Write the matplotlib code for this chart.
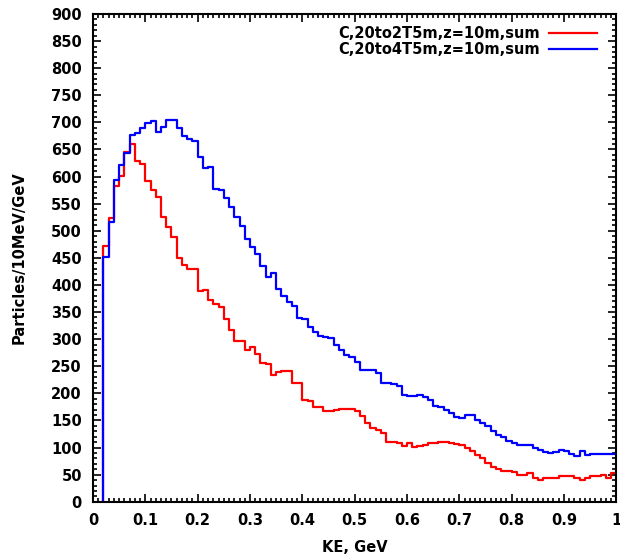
import numpy as np
import matplotlib
matplotlib.use("Agg")
from matplotlib import pyplot as plt
from matplotlib.ticker import MultipleLocator, FormatStrFormatter

# low edge of each 10 MeV bin, GeV
ke_low = np.round(np.arange(0.02, 1.0, 0.01), 2)

red_2T5m = [471, 523, 583, 601, 646, 660, 629, 623, 592, 575,
            563, 525, 507, 489, 449, 437, 429, 430, 388, 390,
            373, 365, 359, 337, 317, 297, 297, 280, 286, 273,
            256, 255, 234, 240, 241, 241, 219, 219, 188, 185,
            175, 175, 168, 168, 170, 171, 172, 172, 167, 159,
            145, 136, 133, 127, 111, 111, 108, 103, 108, 101,
            103, 105, 108, 108, 111, 110, 108, 107, 105, 99,
            93, 87, 81, 71, 65, 60, 57, 56, 55, 50,
            50, 53, 44, 41, 44, 44, 44, 47, 47, 47,
            44, 41, 44, 47, 47, 50, 44, 53]

blue_4T5m = [452, 517, 594, 622, 643, 677, 680, 690, 698, 702,
             683, 691, 704, 704, 690, 675, 669, 665, 637, 615,
             617, 577, 575, 560, 544, 525, 508, 485, 470, 457,
             435, 414, 423, 392, 380, 369, 362, 339, 338, 323,
             314, 305, 304, 302, 290, 280, 270, 268, 258, 243,
             244, 244, 237, 219, 219, 218, 213, 197, 196, 196,
             197, 193, 188, 177, 174, 170, 164, 157, 154, 160,
             160, 151, 145, 139, 130, 124, 120, 112, 109, 105,
             105, 104, 99, 96, 91, 90, 92, 95, 93, 88,
             85, 93, 87, 88, 88, 88, 88, 88]

labels = ["C,20to2T5m,z=10m,sum", "C,20to4T5m,z=10m,sum"]

plt.rcParams['font.family'] = ['DejaVu Sans']
plt.rcParams['font.weight'] = 'bold'

fig = plt.figure(figsize=(6.2, 5.6), dpi=100)
ax = fig.add_axes([0.150, 0.104, 0.844, 0.871])

edges = np.append(ke_low, 1.0)
for vals, col, lab in [(red_2T5m, 'red', labels[0]), (blue_4T5m, 'blue', labels[1])]:
    xs = np.concatenate([[edges[0]], edges])
    ys = np.concatenate([[0], vals, [vals[-1]]])
    ax.step(xs, ys, where='post', color=col, lw=1.6, label=lab)

ax.set_xlim(0, 1)
ax.set_ylim(0, 900)
ax.xaxis.set_major_locator(MultipleLocator(0.1))
ax.xaxis.set_minor_locator(MultipleLocator(0.01))
ax.yaxis.set_major_locator(MultipleLocator(50))
ax.yaxis.set_minor_locator(MultipleLocator(10))
ax.xaxis.set_major_formatter(FormatStrFormatter('%g'))
ax.tick_params(which='both', direction='in', top=True, right=True, width=1.2)
ax.tick_params(which='major', length=6, labelsize=10.5, pad=8)
ax.tick_params(which='minor', length=3)
for s in ax.spines.values():
    s.set_linewidth(1.5)

ax.set_xlabel("KE, GeV", fontsize=10.5, fontweight='bold', labelpad=9)
ax.set_ylabel("Particles/10MeV/GeV", fontsize=10.5, fontweight='bold', labelpad=18)

ax.legend(loc='upper right', bbox_to_anchor=(0.985, 1.0), frameon=False,
          markerfirst=False, fontsize=10.5, handlelength=3.3, handletextpad=0.6,
          borderaxespad=0.4, labelspacing=0.1)

plt.savefig('out.png', dpi=100)
